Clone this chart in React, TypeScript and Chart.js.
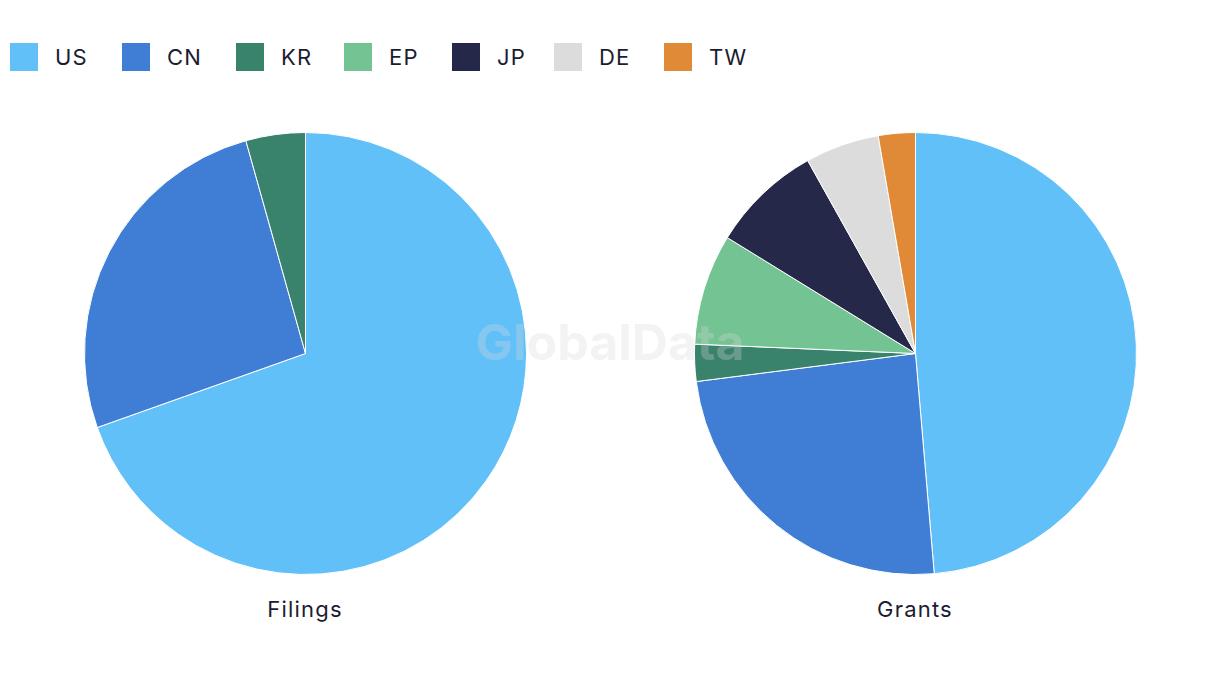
import React, { useEffect, useRef } from "react";
import { Chart, registerables } from "chart.js";

Chart.register(...registerables);

const legendLabels = ["US", "CN", "KR", "EP", "JP", "DE", "TW"];
const legendColors = ["#62C0F9", "#407ED6", "#39826C", "#74C392", "#262849", "#DCDCDC", "#E08A38"];

const filingsLabels = ["US", "CN", "KR"];
const filingsValues = [16, 6, 1];

const grantsLabels = ["US", "CN", "KR", "EP", "JP", "DE", "TW"];
const grantsValues = [18, 9, 1, 3, 3, 2, 1];

// layout: x position of each legend swatch
const LEGEND_X = [10, 122, 236, 344, 452, 554, 664];

const FONT = "Inter, 'Open Sans', sans-serif";
const TEXT = "#1c1c30";

function colorFor(label: string) {
  return legendColors[legendLabels.indexOf(label)];
}

function PieChart({ labels, values, left, top, size }: { labels: string[]; values: number[]; left: number; top: number; size: number }) {
  const ref = useRef<HTMLCanvasElement>(null);
  useEffect(() => {
    if (!ref.current) return;
    const chart = new Chart(ref.current, {
      type: "pie",
      data: {
        labels,
        datasets: [
          {
            data: values,
            backgroundColor: labels.map(colorFor),
            borderColor: "#ffffff",
            borderWidth: 1,
          },
        ],
      },
      options: {
        responsive: false,
        animation: false,
        layout: { padding: 0 },
        plugins: { legend: { display: false }, tooltip: { enabled: false } },
      },
    });
    return () => chart.destroy();
  }, []);
  return (
    <canvas
      ref={ref}
      width={size}
      height={size}
      style={{ position: "absolute", left, top, width: size, height: size }}
    />
  );
}

export default function App() {
  const size = 443;
  return (
    <div style={{ position: "fixed", left: 0, top: 0, width: 1220, height: 686, background: "#fff", fontFamily: FONT, color: TEXT }}>
      {legendLabels.map((l, i) => (
        <div key={l} style={{ position: "absolute", left: LEGEND_X[i], top: 43, display: "flex", alignItems: "center", height: 28 }}>
          <div style={{ width: 28, height: 28, background: legendColors[i], marginRight: 17 }} />
          <span style={{ fontSize: 22, lineHeight: "28px", letterSpacing: "1.2px", whiteSpace: "nowrap" }}>{l}</span>
        </div>
      ))}
      <PieChart labels={filingsLabels} values={filingsValues} left={305 - size / 2} top={353 - size / 2} size={size} />
      <PieChart labels={grantsLabels} values={grantsValues} left={915 - size / 2} top={353 - size / 2} size={size} />
      <div style={{ position: "absolute", left: 205, width: 200, top: 594, textAlign: "center", fontSize: 22, lineHeight: "30px", letterSpacing: "1.2px" }}>Filings</div>
      <div style={{ position: "absolute", left: 815, width: 200, top: 594, textAlign: "center", fontSize: 22, lineHeight: "30px", letterSpacing: "1.2px" }}>Grants</div>
      <div
        style={{
          position: "absolute",
          left: 410,
          width: 400,
          top: 312,
          textAlign: "center",
          fontSize: 50,
          fontWeight: 700,
          lineHeight: "60px",
          color: "rgba(215,215,215,0.3)",
          pointerEvents: "none",
        }}
      >
        GlobalData
      </div>
    </div>
  );
}
